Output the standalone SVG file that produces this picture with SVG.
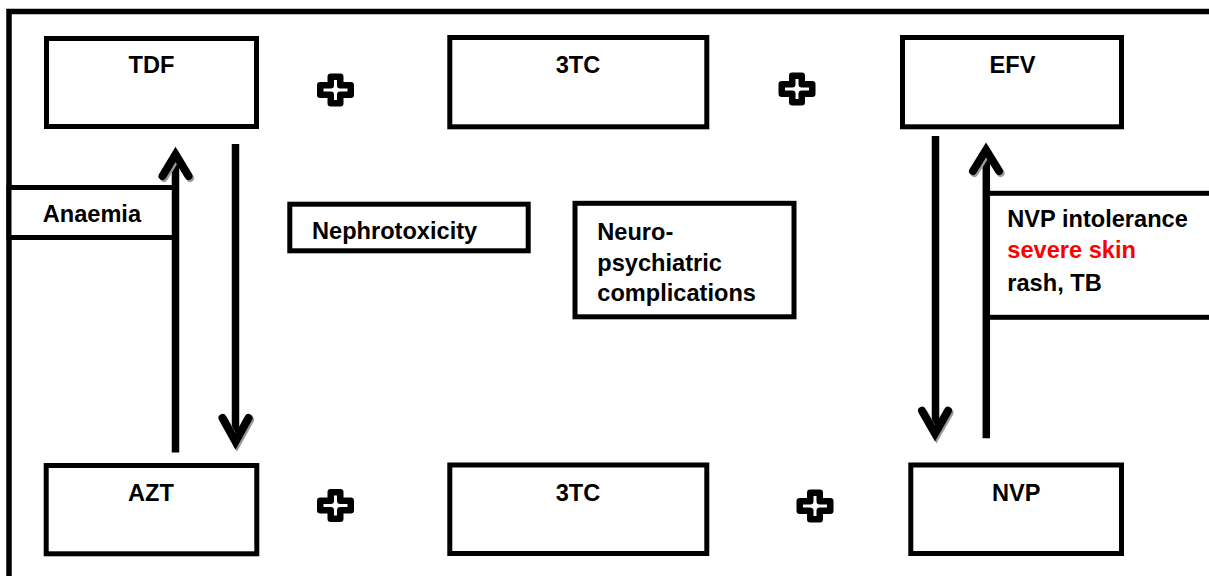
<svg xmlns="http://www.w3.org/2000/svg" width="1209" height="576" viewBox="0 0 1209 576">
<style>
  .box{fill:#fff;stroke:#000;stroke-width:5}
  .t{font-family:"Liberation Sans",Arial,sans-serif;font-weight:bold;font-size:23.6px;fill:#000}
  .c{text-anchor:middle}
  .red{fill:#ff0000}
  .shaft{stroke:#000;stroke-width:7.5;fill:none}
  .head{stroke:#000;stroke-width:8;fill:none;stroke-linecap:round;stroke-linejoin:miter}
  .shadow{stroke:#9a9a9a;stroke-width:8;fill:none;stroke-linecap:round;stroke-linejoin:miter}
  .plus{fill:#fff;stroke:#000;stroke-width:6.5;stroke-linejoin:round}
</style>
<defs>
  <path id="plusShape" class="plus" d="M-4.75,-13.25 H4.75 V-4.75 H15.25 V4.75 H4.75 V13.25 H-4.75 V4.75 H-15.25 V-4.75 H-4.75 Z"/>
</defs>
<rect width="1209" height="576" fill="#fff"/>
<rect id="frame" x="9" y="11.5" width="1300" height="700" fill="none" stroke="#000" stroke-width="5.5"/>

<g id="node-anaemia">
  <rect class="box" x="9" y="187.5" width="167" height="50"/>
  <text class="t" x="42.7" y="222">Anaemia</text>
</g>
<g id="node-nvp-intolerance">
  <rect class="box" x="986" y="193.3" width="300" height="124"/>
  <text class="t" x="1007.3" y="226.7">NVP intolerance</text>
  <text class="t red" x="1007.3" y="258.3">severe skin</text>
  <text class="t" x="1007.3" y="290.5">rash, TB</text>
</g>

<g id="connectors">
  <!-- AZT -> TDF (up) -->
  <line class="shaft" x1="175.5" y1="452.5" x2="175.5" y2="156"/>
  <polyline class="shadow" points="164,178 177,156.5 190,178"/>
  <polyline class="head" points="162.5,176 175.5,154.5 188.5,176"/>
  <!-- TDF -> AZT (down) -->
  <line class="shaft" x1="235.5" y1="144" x2="235.5" y2="439"/>
  <polyline class="shadow" points="224,420 237,443.5 250,420"/>
  <polyline class="head" points="222.5,418 235.5,441.5 248.5,418"/>
  <!-- EFV -> NVP (down) -->
  <line class="shaft" x1="935.5" y1="136" x2="935.5" y2="431"/>
  <polyline class="shadow" points="923.5,412.7 936.5,435.5 949.5,412.7"/>
  <polyline class="head" points="922,410.7 935,433.5 948,410.7"/>
  <!-- NVP -> EFV (up) -->
  <line class="shaft" x1="986.3" y1="438.3" x2="986.3" y2="152"/>
  <polyline class="shadow" points="974.5,173 987.5,152 1000.5,173"/>
  <polyline class="head" points="973,171 986,150 999,171"/>
</g>

<g id="node-tdf">
  <rect class="box" x="46.5" y="38.5" width="210" height="88"/>
  <text class="t c" x="151.5" y="73">TDF</text>
</g>
<g id="node-3tc-top">
  <rect class="box" x="449.8" y="37.5" width="257" height="89.3"/>
  <text class="t c" x="578" y="73">3TC</text>
</g>
<g id="node-efv">
  <rect class="box" x="902.5" y="37.5" width="219" height="89.3"/>
  <text class="t c" x="1012.5" y="73">EFV</text>
</g>
<g id="node-azt">
  <rect class="box" x="46.2" y="465.5" width="210.6" height="88.3"/>
  <text class="t c" x="151" y="501">AZT</text>
</g>
<g id="node-3tc-bottom">
  <rect class="box" x="449.8" y="465" width="257" height="88.5"/>
  <text class="t c" x="578" y="501">3TC</text>
</g>
<g id="node-nvp">
  <rect class="box" x="910.8" y="465" width="210.7" height="88.5"/>
  <text class="t c" x="1016.2" y="501">NVP</text>
</g>
<g id="node-nephrotoxicity">
  <rect class="box" x="289.8" y="204.2" width="238.4" height="46.6"/>
  <text class="t" x="312" y="239">Nephrotoxicity</text>
</g>
<g id="node-neuro">
  <rect class="box" x="575" y="203.3" width="219" height="113.5"/>
  <text class="t" x="597.3" y="240">Neuro-</text>
  <text class="t" x="597.3" y="271">psychiatric</text>
  <text class="t" x="597.3" y="301">complications</text>
</g>

<g id="plus-signs">
  <use href="#plusShape" x="335.5" y="90"/>
  <use href="#plusShape" x="797" y="89"/>
  <use href="#plusShape" x="335.5" y="505.5"/>
  <use href="#plusShape" x="815" y="506"/>
</g>
</svg>
